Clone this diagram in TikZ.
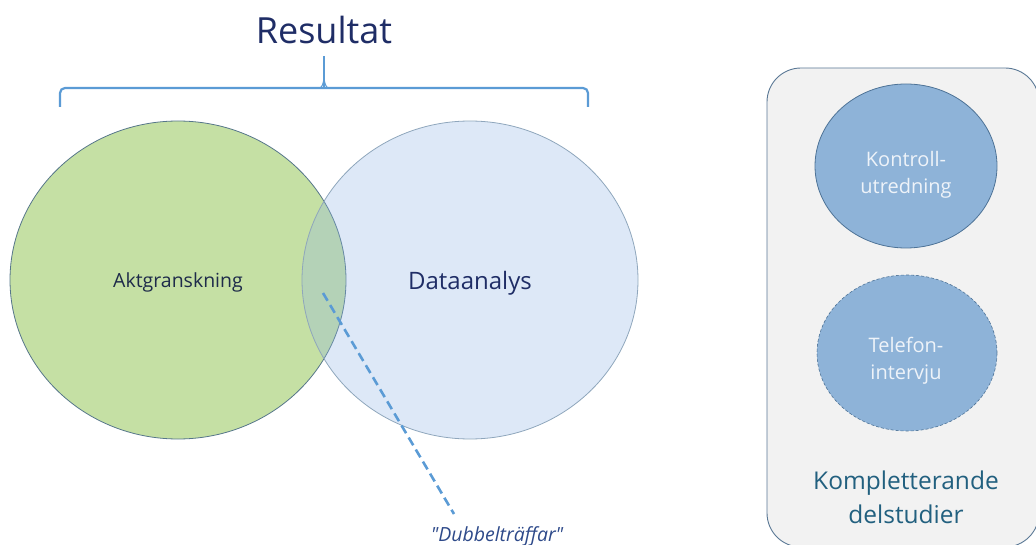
\documentclass[tikz,border=0pt]{standalone}
\usepackage{fontspec}
\setmainfont{Open Sans}
\usetikzlibrary{shapes.geometric}
\definecolor{greenfill}{HTML}{C5E0A4}
\definecolor{greenedge}{HTML}{56768A}
\definecolor{bluefill}{HTML}{8EB4E3}
\definecolor{blueedge}{HTML}{8FA6BC}
\definecolor{accent}{HTML}{5B9BD5}
\definecolor{navy}{HTML}{1F2D66}
\definecolor{dubtext}{HTML}{2E4A8A}
\definecolor{darktext}{HTML}{1E2B4A}
\definecolor{boxfill}{HTML}{F2F2F2}
\definecolor{boxedge}{HTML}{5A7895}
\definecolor{subfill}{HTML}{8EB3D8}
\definecolor{subedge}{HTML}{4E7397}
\definecolor{subtext}{HTML}{EEF3F9}
\definecolor{teal}{HTML}{22607F}
\tikzset{
  venn/.style={ellipse, inner sep=0pt, minimum width=336pt, minimum height=318pt},
  sub/.style={ellipse, inner sep=0pt, draw=subedge, line width=0.8pt, fill=subfill},
  subtxt/.style={text=subtext, font=\fontsize{20}{27}\selectfont, align=center},
  brace/.style={draw=accent, line width=2.2pt},
}
\begin{document}
\begin{tikzpicture}[x=1pt,y=-1pt]
\useasboundingbox (0,0) rectangle (1036,545);
% title and bracket
\node[text=navy, font=\fontsize{36}{40}\selectfont, anchor=base] (res) at (324,44) {Resultat};
\coordinate (bl) at (60,107);
\coordinate (br) at (588,107);
\coordinate (bm) at (324,88);
\coordinate (bt) at (324,56);
\draw[brace, rounded corners=5pt] (bl) -- (60,88) -- (588,88) -- (br);
\draw[brace, line width=1.8pt] (bm) -- (bt);
\draw[accent, line width=1pt] (318,88.5) .. controls (322,88) and (323,85) .. (324,78) .. controls (325,85) and (326,88) .. (330,88.5);
% venn
\node[venn, draw=greenedge, line width=0.8pt, fill=greenfill] (akt) at (178,280) {};
\node[venn, draw=blueedge, line width=0.8pt, fill=bluefill, fill opacity=0.3] (data) at (470,280) {};
\node[text=darktext, font=\fontsize{19.5}{22}\selectfont] (aktl) at (178,282) {Aktgranskning};
\node[text=navy, font=\fontsize{24}{28}\selectfont] (datal) at (470,283) {Dataanalys};
% dubbeltraffar
\node[text=dubtext, font=\fontsize{19.5}{22}\selectfont\itshape, anchor=base] (dub) at (497,541) {\textquotedbl Dubbelträffar\textquotedbl};
\coordinate (ov) at (323,293);
\coordinate (dubtop) at (454,514);
\draw[accent, line width=2.6pt, dash pattern=on 9pt off 5pt] (ov) -- (dubtop);
% right box
\draw[draw=boxedge, line width=0.9pt, fill=boxfill, rounded corners=34pt] (767,68) rectangle (1039,547);
\node[sub, minimum width=182pt, minimum height=164pt] (kon) at (906,166) {};
\node[subtxt] (konl) at (906,175) {Kontroll-\\utredning};
\node[sub, densely dashed, line width=0.6pt, minimum width=180pt, minimum height=156pt] (tel) at (907,353) {};
\node[subtxt] (tell) at (906,361) {Telefon-\\intervju};
\node[text=teal, font=\fontsize{24.5}{34}\selectfont, align=center] (komp) at (906,497) {Kompletterande\\delstudier};
\end{tikzpicture}
\end{document}
